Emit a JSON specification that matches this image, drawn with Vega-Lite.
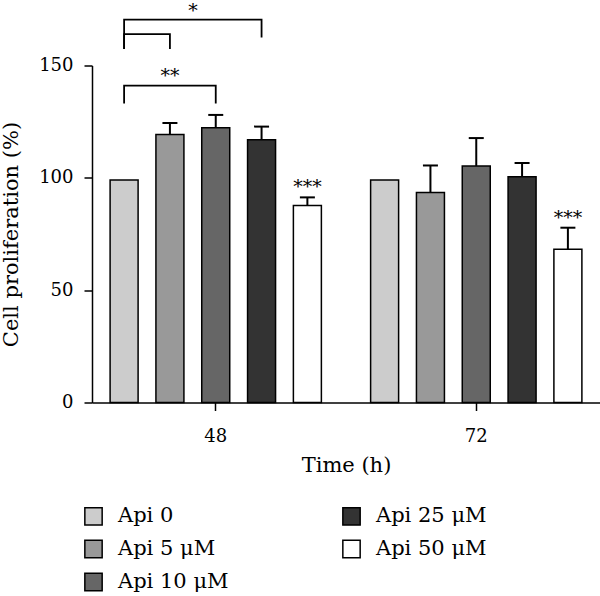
{
  "$schema": "https://vega.github.io/schema/vega-lite/v6.json",
  "width": 508,
  "height": 337,
  "autosize": {"type": "none"},
  "padding": {"left": 92, "top": 65.5, "right": 0, "bottom": 193.5},
  "datasets": {
    "bars": [
      {"time": "48", "treatment": "Api 0", "mean": 99, "upper": null},
      {"time": "48", "treatment": "Api 5 μM", "mean": 119.3, "upper": 124.4},
      {"time": "48", "treatment": "Api 10 μM", "mean": 122.3, "upper": 128.0},
      {"time": "48", "treatment": "Api 25 μM", "mean": 116.9, "upper": 122.8},
      {"time": "48", "treatment": "Api 50 μM", "mean": 87.7, "upper": 91.3},
      {"time": "72", "treatment": "Api 0", "mean": 99, "upper": null},
      {"time": "72", "treatment": "Api 5 μM", "mean": 93.5, "upper": 105.5},
      {"time": "72", "treatment": "Api 10 μM", "mean": 105.3, "upper": 117.7},
      {"time": "72", "treatment": "Api 25 μM", "mean": 100.5, "upper": 106.6},
      {"time": "72", "treatment": "Api 50 μM", "mean": 68.2, "upper": 77.8}
    ],
    "marks": [
      {"time": "48", "treatment": "Api 50 μM", "y": 91.3, "label": "***"},
      {"time": "72", "treatment": "Api 50 μM", "y": 77.8, "label": "***"},
      {"time": "48", "treatment": "Api 5 μM", "y": 141, "label": "**"}
    ],
    "topmark": [
      {"time": "48", "treatment": "Api 5 μM", "y": 170.4, "label": "*"}
    ],
    "brackets": [
      {"id": "a", "o": 1, "time": "48", "treatment": "Api 0", "y": 157.4},
      {"id": "a", "o": 2, "time": "48", "treatment": "Api 0", "y": 170.4},
      {"id": "a", "o": 3, "time": "48", "treatment": "Api 25 μM", "y": 170.4},
      {"id": "a", "o": 4, "time": "48", "treatment": "Api 25 μM", "y": 162.5},
      {"id": "b", "o": 1, "time": "48", "treatment": "Api 0", "y": 157.4},
      {"id": "b", "o": 2, "time": "48", "treatment": "Api 0", "y": 164},
      {"id": "b", "o": 3, "time": "48", "treatment": "Api 5 μM", "y": 164},
      {"id": "b", "o": 4, "time": "48", "treatment": "Api 5 μM", "y": 157.4},
      {"id": "c", "o": 1, "time": "48", "treatment": "Api 0", "y": 133.1},
      {"id": "c", "o": 2, "time": "48", "treatment": "Api 0", "y": 141},
      {"id": "c", "o": 3, "time": "48", "treatment": "Api 10 μM", "y": 141},
      {"id": "c", "o": 4, "time": "48", "treatment": "Api 10 μM", "y": 133.1}
    ]
  },
  "encoding": {
    "x": {
      "field": "time",
      "type": "nominal",
      "title": "Time (h)",
      "scale": {"paddingInner": 0.189, "paddingOuter": 0.0695},
      "axis": {"labelAngle": 0, "labelPadding": 17, "titlePadding": 9}
    },
    "xOffset": {
      "field": "treatment",
      "type": "nominal",
      "sort": ["Api 0", "Api 5 μM", "Api 10 μM", "Api 25 μM", "Api 50 μM"],
      "scale": {"paddingInner": 0.389, "paddingOuter": 0}
    }
  },
  "layer": [
    {
      "data": {"name": "bars"},
      "mark": {"type": "bar", "stroke": "black", "strokeWidth": 1.5},
      "encoding": {
        "y": {
          "field": "mean",
          "type": "quantitative",
          "title": "Cell proliferation (%)",
          "scale": {"domain": [0, 150], "nice": false},
          "axis": {"values": [0, 50, 100, 150], "labelPadding": 11, "titlePadding": 17}
        },
        "fill": {
          "field": "treatment",
          "type": "nominal",
          "scale": {
            "domain": ["Api 0", "Api 5 μM", "Api 10 μM", "Api 25 μM", "Api 50 μM"],
            "range": ["#cccccc", "#999999", "#666666", "#333333", "#ffffff"]
          },
          "legend": {"title": null}
        }
      }
    },
    {
      "data": {"name": "bars"},
      "transform": [{"filter": "datum.upper != null"}],
      "mark": {"type": "rule", "color": "black", "strokeWidth": 2},
      "encoding": {
        "y": {"field": "mean", "type": "quantitative", "title": "Cell proliferation (%)"},
        "y2": {"field": "upper"}
      }
    },
    {
      "data": {"name": "bars"},
      "transform": [{"filter": "datum.upper != null"}],
      "mark": {"type": "tick", "color": "black", "opacity": 1, "thickness": 2, "size": 15},
      "encoding": {
        "y": {"field": "upper", "type": "quantitative", "title": "Cell proliferation (%)"}
      }
    },
    {
      "data": {"name": "brackets"},
      "mark": {"type": "line", "color": "black", "strokeWidth": 1.8},
      "encoding": {
        "y": {"field": "y", "type": "quantitative", "title": "Cell proliferation (%)"},
        "detail": {"field": "id"},
        "order": {"field": "o", "type": "quantitative"}
      }
    },
    {
      "data": {"name": "marks"},
      "mark": {"type": "text", "font": "DejaVu Serif", "fontSize": 19, "baseline": "alphabetic", "dy": -4, "color": "black"},
      "encoding": {
        "y": {"field": "y", "type": "quantitative", "title": "Cell proliferation (%)"},
        "text": {"field": "label"}
      }
    },
    {
      "data": {"name": "topmark"},
      "mark": {"type": "text", "font": "DejaVu Serif", "fontSize": 19, "baseline": "alphabetic", "dy": -3, "dx": 23, "color": "black"},
      "encoding": {
        "y": {"field": "y", "type": "quantitative", "title": "Cell proliferation (%)"},
        "text": {"field": "label"}
      }
    }
  ],
  "config": {
    "font": "DejaVu Serif",
    "view": {"stroke": null},
    "axis": {
      "grid": false,
      "domainColor": "black",
      "domainWidth": 1.5,
      "tickColor": "black",
      "tickWidth": 1.5,
      "tickSize": 8,
      "labelFont": "DejaVu Serif",
      "labelFontSize": 18,
      "labelColor": "black",
      "titleFont": "DejaVu Serif",
      "titleFontSize": 21,
      "titleFontWeight": "normal",
      "titleColor": "black"
    },
    "legend": {
      "orient": "none",
      "legendX": -9,
      "legendY": 440,
      "columns": 2,
      "padding": 0,
      "symbolType": "square",
      "symbolSize": 300,
      "symbolStrokeColor": "black",
      "symbolStrokeWidth": 1.5,
      "symbolOpacity": 1,
      "labelFont": "DejaVu Serif",
      "labelFontSize": 21,
      "labelColor": "black",
      "labelOffset": 14,
      "labelLimit": 300,
      "rowPadding": 8,
      "columnPadding": 110
    }
  }
}
